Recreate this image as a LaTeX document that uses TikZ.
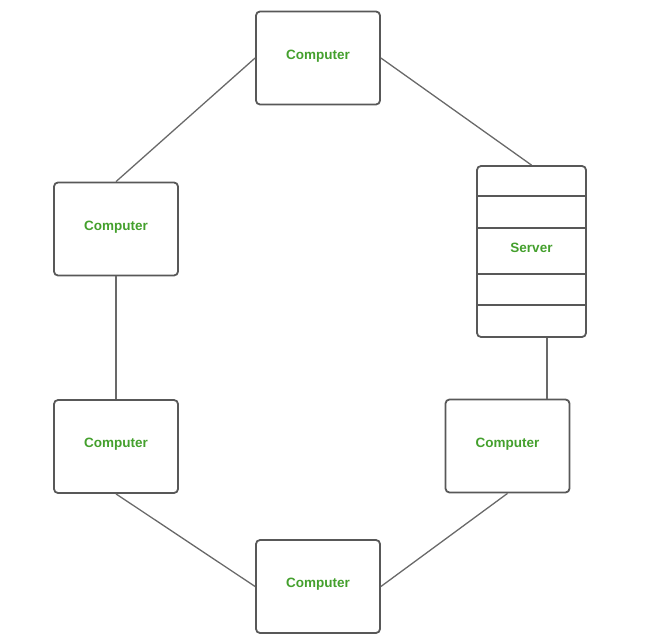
\documentclass[tikz,border=0pt]{standalone}
\usepackage{fontspec}
\setmainfont{Liberation Sans}
\usepackage{xcolor}
\usepackage{tikz}
\usetikzlibrary{positioning}
\definecolor{labelgreen}{RGB}{68,160,45}
\definecolor{linegray}{RGB}{88,88,88}
\tikzset{x=1pt, y=-1pt, node distance=217.5pt,
	computer/.style={draw=linegray, line width=1.8pt, rounded corners=4pt, fill=white, minimum width=124pt, minimum height=93pt, inner sep=0pt, text depth=7pt, text=labelgreen, font=\fontsize{13.5}{16}\selectfont\bfseries},
	server/.style={computer, minimum width=109pt, minimum height=171pt},
	link/.style={draw=linegray!90, line width=1.3pt}}

\begin{document}
\begin{tikzpicture}
	\useasboundingbox (0,0) rectangle (667,639);
	\node[computer] (Top) at (318,58) {Computer};
	\node[computer] (Left Up) at (116,229) {Computer};
	\node[computer, below of=Left Up] (Left Down) {Computer};
	\node[server] (Server) at (531.5,251.5) {Server};
	\node[computer] (Right Down) at (507.5,446) {Computer};
	\node[computer] (Bottom) at (318,586.5) {Computer};
	
	\foreach \off in {31,63,109,140}
		\draw[linegray, line width=1.3pt] ([yshift=-\off pt]Server.north west) -- ([yshift=-\off pt]Server.north east);
	
	\draw[link]	(Top.west) edge (Left Up.north)
				(Top.east) edge (Server.north)
				(Left Up.south) edge (Left Down.north)
				([xshift=15.5pt]Server.south) edge ([xshift=15.5pt]Server.south |- Right Down.north)
				(Left Down.south) edge (Bottom.west)
				(Right Down.south) edge (Bottom.east);
\end{tikzpicture}
\end{document}
